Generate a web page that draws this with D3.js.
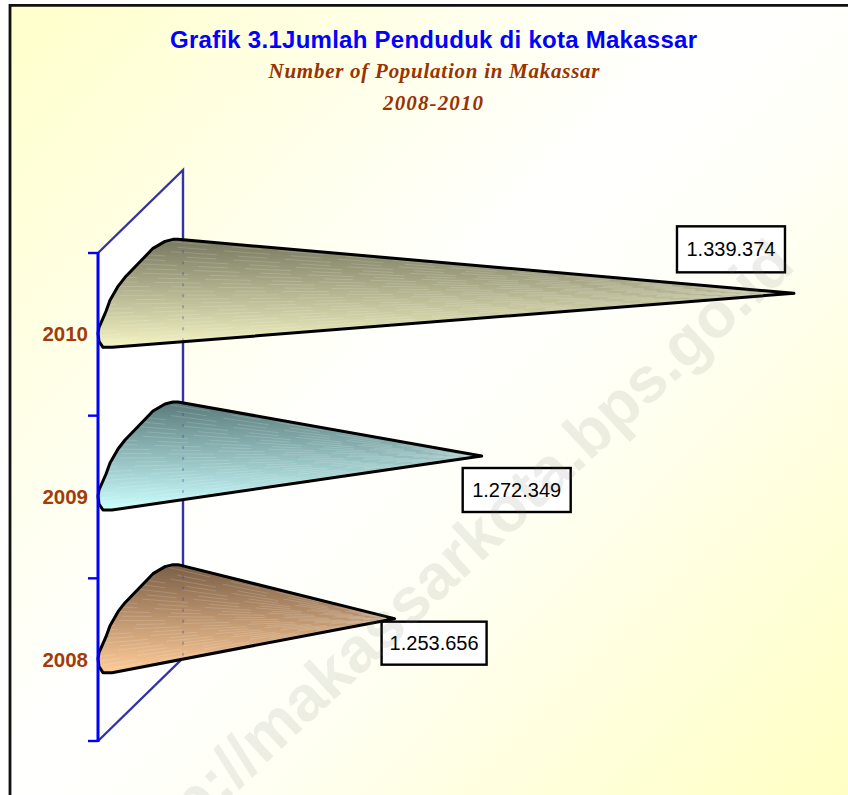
<!DOCTYPE html>
<html><head><meta charset="utf-8">
<script src="https://cdn.jsdelivr.net/npm/d3@7/dist/d3.min.js"></script>
<style>html,body{margin:0;padding:0;background:#fff;overflow:hidden}svg{display:block}</style>
</head><body><svg id="c" width="848" height="795"></svg>
<script>
const years = ["2010","2009","2008"];
const population = [1339374,1272349,1253656];
const valueLabels = ["1.339.374","1.272.349","1.253.656"];
const topColors = ["#77775f","#5a7a7a","#7a5e46"];
const bottomColors = ["#f4f4c4","#ccffff","#ffcc98"];
const titleLines = ["Grafik 3.1Jumlah Penduduk di kota Makassar","Number of Population in Makassar","2008-2010"];
const watermark = "http://makassarkota.bps.go.id";

const svg = d3.select("#c"), defs = svg.append("defs");
const x = d3.scaleLinear().domain([1190000,1340000]).range([98,796.9]);
const y = d3.scaleBand().domain(years).range([253,741]);

const bg = defs.append("linearGradient").attr("id","bg").attr("gradientUnits","userSpaceOnUse")
  .attr("x1",30).attr("y1",10).attr("x2",848).attr("y2",795);
[[0,"#ffffcc"],[.22,"#ffffe6"],[.45,"#ffffff"],[.58,"#fffff8"],[.75,"#ffffe2"],[1,"#ffffc4"]]
  .forEach(s=>bg.append("stop").attr("offset",s[0]).attr("stop-color",s[1]));
svg.append("rect").attr("x",10).attr("y",5).attr("width",838).attr("height",790).attr("fill","url(#bg)");
svg.append("path").attr("d","M10,795V5.3H848").attr("fill","none").attr("stroke","#111").attr("stroke-width",2.8);

// titles
const titles = svg.append("g").attr("text-anchor","middle");
titles.append("text").attr("x",433.5).attr("y",48).attr("textLength",527)
  .attr("font-family","Liberation Sans").attr("font-weight","bold").attr("font-size",24).attr("fill","#0000ff").text(titleLines[0]);
[[1,434,78,331],[2,433,110,100]].forEach(d=>titles.append("text").attr("x",d[1]).attr("y",d[2]).attr("textLength",d[3])
  .attr("font-family","Liberation Serif").attr("font-weight","bold").attr("font-style","italic").attr("font-size",21).attr("fill","#993300").text(titleLines[d[0]]));

// depth wall
const [yTop,yBot] = y.range(), dx=85, dy=83, x0=x.range()[0];
svg.append("path").attr("d",`M${x0},${yTop}L${x0+dx},${yTop-dy}V${yBot-dy}L${x0},${yBot}Z`).attr("fill","#fff").attr("stroke","none");
svg.append("path").attr("d",`M${x0},${yTop}L${x0+dx},${yTop-dy}V${yBot-dy}L${x0},${yBot}`).attr("fill","none").attr("stroke","#3333a6").attr("stroke-width",2.4);

// cones
const depth=-41, R=54;
const profile=[[80,-54],[75,-54],[67,-52],[55,-45],[27,-16],[20,-7],[12,7],[8,18],[1,34],[0,40],[1,48],[5,54],[14,54]];
const pathLine=d3.line();
const edgeX=v=>{for(let i=0;i<profile.length-2;i++){const a=profile[i],b=profile[i+1];if(v>=a[1]&&v<=b[1]&&b[1]>a[1])return a[0]+(b[0]-a[0])*(v-a[1])/(b[1]-a[1]);}return 80;};
years.forEach((yr,i)=>{
  const cy=y(yr)+y.bandwidth()/2+depth, tip=x(population[i]);
  const g=defs.append("linearGradient").attr("id","g"+i).attr("x1",0).attr("y1",0).attr("x2",0).attr("y2",1);
  g.append("stop").attr("offset",0).attr("stop-color",topColors[i]);
  g.append("stop").attr("offset",1).attr("stop-color",bottomColors[i]);
  const pts=profile.map(p=>[x0+p[0],cy+p[1]]).concat([[tip,cy]]);
  const clip=defs.append("clipPath").attr("id","cl"+i); clip.append("path").attr("d",pathLine(pts)+"Z");
  svg.append("path").attr("d",pathLine(pts)+"Z").attr("fill",`url(#g${i})`);
  const s=svg.append("g").attr("clip-path",`url(#cl${i})`);
  d3.range(-52,54,4.5).forEach((v,k)=>{
    s.append("line").attr("x1",x0+edgeX(v)).attr("y1",cy+v).attr("x2",tip).attr("y2",cy)
      .attr("stroke","#fff").attr("stroke-opacity",.2).attr("stroke-width",.8)
      .attr("stroke-dasharray","46 21 30 17").attr("stroke-dashoffset",(k*47)%114);
  });
  s.append("line").attr("x1",x0+dx).attr("x2",x0+dx).attr("y1",cy-R).attr("y2",cy+R)
    .attr("stroke","#3333a6").attr("stroke-opacity",.28).attr("stroke-width",2).attr("stroke-dasharray","3 8");
  svg.append("path").attr("d",pathLine(pts)+"Z").attr("fill","none").attr("stroke","#000").attr("stroke-width",3).attr("stroke-linejoin","round");
  svg.append("line").attr("x1",tip-8).attr("x2",tip).attr("y1",cy).attr("y2",cy).attr("stroke","#000").attr("stroke-width",2.2);
});

// axis
svg.append("line").attr("x1",x0).attr("x2",x0).attr("y1",yTop-1).attr("y2",yBot+1).attr("stroke","#0000ff").attr("stroke-width",3);
[...years.map(d=>y(d)),yBot].forEach(v=>svg.append("line").attr("x1",x0-10).attr("x2",x0).attr("y1",v).attr("y2",v).attr("stroke","#0000ff").attr("stroke-width",2.4));
years.forEach(yr=>svg.append("text").attr("x",88).attr("y",y(yr)+y.bandwidth()/2+7).attr("text-anchor","end")
  .attr("font-family","Liberation Sans").attr("font-weight","bold").attr("font-size",20.5).attr("fill","#a33c08").text(yr));

// value boxes
const boxOffsets=[[-117,-67,108,46],[-19,12,108,44],[-13,3,105,43]];
years.forEach((yr,i)=>{
  const cy=y(yr)+y.bandwidth()/2+depth, tip=x(population[i]), b=boxOffsets[i];
  svg.append("rect").attr("x",tip+b[0]).attr("y",cy+b[1]).attr("width",b[2]).attr("height",b[3])
    .attr("fill","#fff").attr("stroke","#000").attr("stroke-width",2.4);
  svg.append("text").attr("x",tip+b[0]+b[2]/2).attr("y",cy+b[1]+b[3]/2+7).attr("text-anchor","middle")
    .attr("font-family","Liberation Sans").attr("font-size",20).attr("fill","#000").text(valueLabels[i]);
});

// watermark
svg.append("text").attr("transform","translate(797,268) rotate(-43)").attr("text-anchor","end")
  .attr("font-family","Liberation Sans").attr("font-weight","bold").attr("font-size",64)
  .attr("fill","#6f7560").attr("fill-opacity",.12).text(watermark);
</script></body></html>
